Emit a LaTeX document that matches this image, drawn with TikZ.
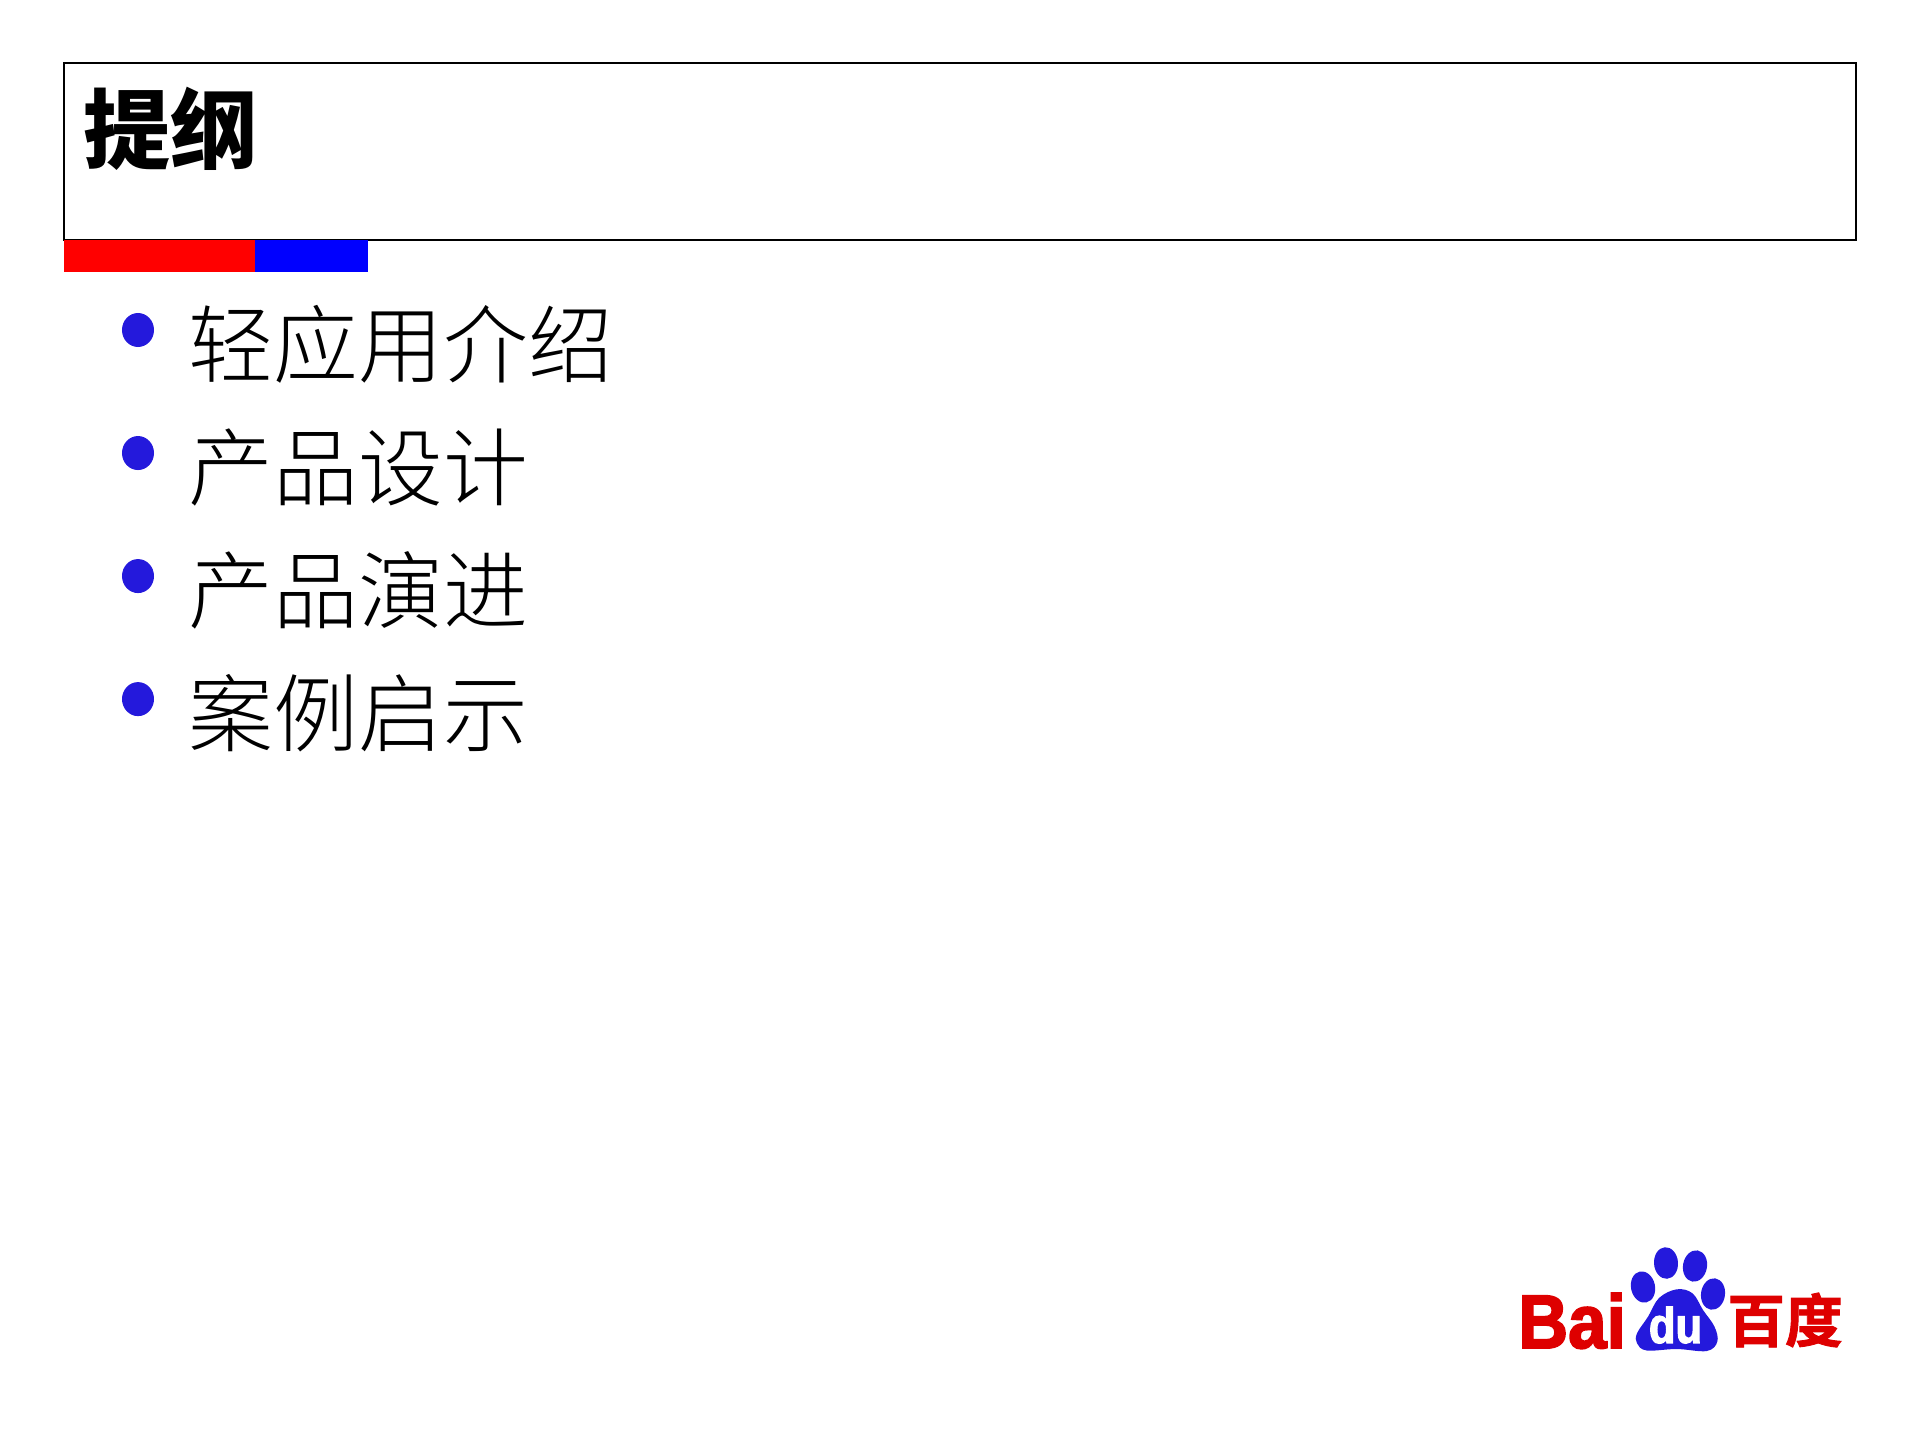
\documentclass[tikz,border=0pt]{standalone}
\usepackage{fontspec}
\setmainfont{Liberation Sans}
\newfontfamily\cjklight[UprightFont=* Light]{Noto Sans CJK SC}
\newfontfamily\cjkheavy[UprightFont=* Black]{Noto Sans CJK SC}
\newfontfamily\cjkbold[UprightFont=* Bold, FakeBold=1.5]{Noto Sans CJK SC}
\newfontfamily\logofont[UprightFont=* Bold, FakeBold=2.5]{Liberation Sans}
\usepackage{tikz}
\usetikzlibrary{shapes, arrows, calc, positioning}
\definecolor{dotblue}{HTML}{2419DC}
\definecolor{logored}{HTML}{DE0000}

\begin{document}
\begin{tikzpicture}[x=0.025cm, y=-0.025cm, node distance=3.075cm]
	\tikzstyle{frame} = [draw, line width=0.05cm, minimum width=44.775cm, minimum height=4.4cm, inner sep=0pt]
	\tikzstyle{bar} = [minimum height=0.8cm, inner sep=0pt]
	\tikzstyle{heading} = [inner sep=0pt, font=\cjkheavy\fontsize{62}{62}\selectfont]
	\tikzstyle{bullet} = [ellipse, fill=dotblue, minimum width=0.8cm, minimum height=0.85cm, inner sep=0pt]
	\tikzstyle{item} = [text width=12cm, align=left, inner sep=0pt, font=\cjklight\fontsize{60.3}{61}\selectfont]
	\tikzstyle{toe} = [ellipse, fill=dotblue, inner sep=0pt, minimum width=0.6cm, minimum height=0.79cm]

	\useasboundingbox (0,0) rectangle (1920,1440);

	\node[frame] (box) at (960,151.5) {};
	\node[heading, anchor=west] (title) at (83,129) {提纲};
	\node[bar, fill=blue, minimum width=2.875cm, anchor=north west] (bluebar) at (253,240) {};
	\node[bar, fill=red, minimum width=4.775cm, anchor=north west] (redbar) at (64,240) {};

	\begin{scope}
		\path
			node[bullet] (b1) at (138,330) {}
			node[bullet, below of=b1] (b2) {}
			node[bullet, below of=b2] (b3) {}
			node[bullet, below of=b3] (b4) {}

			node[item] (t1) at (429,344) {轻应用介绍}
			node[item, below of=t1] (t2) {产品设计}
			node[item, below of=t2] (t3) {产品演进}
			node[item, below of=t3] (t4) {案例启示}
		;
	\end{scope}

	% logo
	\begin{scope}
		\node[toe, rotate=12] (toe1) at (1643,1287) {};
		\node[toe, rotate=4] (toe2) at (1666,1263) {};
		\node[toe, rotate=-10] (toe3) at (1695,1266) {};
		\node[toe, rotate=-8] (toe4) at (1713,1294) {};
		\fill[dotblue] plot[smooth cycle, tension=0.6] coordinates {(1676.7,1289.3) (1659,1298) (1648,1316.7) (1637,1333.3) (1637,1343.3) (1646.7,1350.5) (1676.7,1349) (1706.7,1351) (1717.3,1341.7) (1714.5,1326.7) (1703,1310) (1692.5,1293.3)};
		\node[inner sep=0pt, text=white, xscale=0.87, font=\logofont\fontsize{35.6}{36}\selectfont] (du) at (1675.5,1325) {du};
		\node[inner sep=0pt, text=logored, xscale=0.91, font=\logofont\fontsize{54}{54}\selectfont, anchor=base west] (bai) at (1518,1348) {Bai};
		\node[inner sep=0pt, text=logored, font=\cjkbold\fontsize{41}{41}\selectfont] (baidu) at (1785,1320) {百度};
	\end{scope}
\end{tikzpicture}
\end{document}
